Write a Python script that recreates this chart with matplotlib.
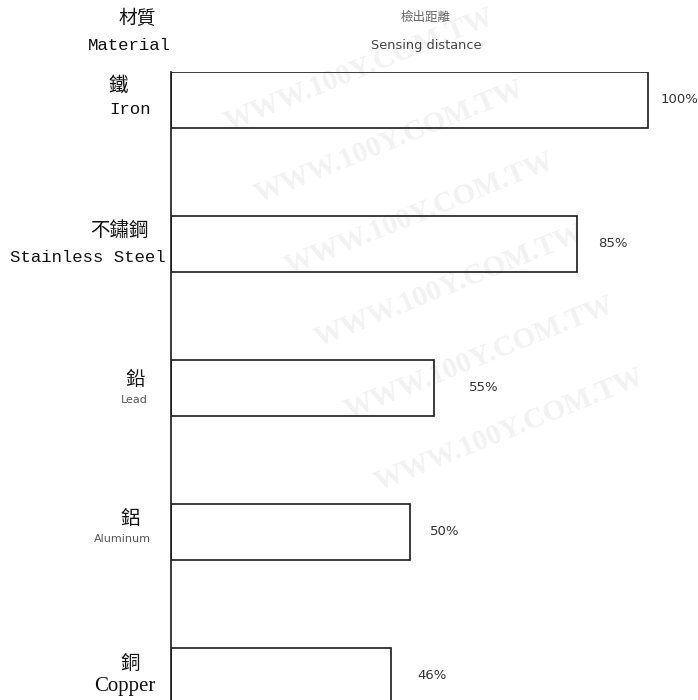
import matplotlib
matplotlib.use("Agg")
import matplotlib.pyplot as plt

# data
materials_zh = ["鐵", "不鏽鋼", "鉛", "鋁", "銅"]
materials_en = ["Iron", "Stainless Steel", "Lead", "Aluminum", "Copper"]
distance_pct = [100, 85, 55, 50, 46]

W, H = 698, 700
fig = plt.figure(figsize=(W / 100, H / 100), dpi=100)
fig.patch.set_facecolor("white")

# faint scan watermark (kept inside the page)
for row in range(10):
    x = 360 + row * 30
    y = 70 + row * 72
    if 150 < x < 540 and 60 < y < 650:
        fig.text(x / W, 1 - y / H, "WWW.100Y.COM.TW", rotation=22,
                 ha="center", va="center", fontsize=21, color="#f2f2f2",
                 family="Liberation Serif", weight="bold", zorder=-5)

ax = fig.add_axes([171 / W, 0, 525 / W, 628 / H])
ax.patch.set_alpha(0)
y = list(range(len(distance_pct)))
ax.barh(y, distance_pct, height=0.39, left=0, color="none",
        edgecolor="#1a1a1a", linewidth=1.2, zorder=2)
ax.set_xlim(0, 110)
ax.set_ylim(4.167, -0.194)
for s in ["top", "right", "bottom"]:
    ax.spines[s].set_visible(False)
ax.spines["left"].set_linewidth(1.2)
ax.spines["left"].set_color("#1a1a1a")
ax.set_xticks([])
ax.set_yticks([])

# percent labels
pct_offset = [12, 21, 35, 20, 27]
for i, v in enumerate(distance_pct):
    ax.annotate(f"{v}%", xy=(v, i), xytext=(pct_offset[i] * 0.72, 0),
                textcoords="offset points", ha="left", va="center",
                fontsize=9.5, color="#333333", family="DejaVu Sans",
                annotation_clip=False)

# category labels (centre x in pixels, vertical offsets in pixels)
zh_x = [118, 119, 135, 130, 130]
zh_dy = [-15, -14, -8, -14, -13]
en_x = [130, 88, 134, 122, 125]
en_dy = [10, 13, 12, 7, 11]
en_font = [("Liberation Mono", 12.5, "#111111"), ("Liberation Mono", 12.5, "#111111"),
           ("DejaVu Sans", 8, "#555555"), ("DejaVu Sans", 8, "#555555"),
           ("Liberation Serif", 15, "#111111")]
for i in range(len(materials_en)):
    cy = 100 + i * 144
    fig.text(zh_x[i] / W, 1 - (cy + zh_dy[i]) / H, materials_zh[i],
             ha="center", va="center", fontsize=14,
             family=["Noto Sans CJK TC", "DejaVu Sans"], color="#111111")
    fam, size, col = en_font[i]
    fig.text(en_x[i] / W, 1 - (cy + en_dy[i]) / H, materials_en[i],
             ha="center", va="center", fontsize=size, family=fam, color=col)

# headers
fig.text(137 / W, 1 - 18 / H, "材質", ha="center", va="center", fontsize=13.5,
         family=["Noto Sans CJK TC", "DejaVu Sans"], color="#111111")
fig.text(129 / W, 1 - 46 / H, "Material", ha="center", va="center",
         fontsize=12.5, family="Liberation Mono", color="#111111")
fig.text(426 / W, 1 - 17 / H, "檢出距離", ha="center", va="center", fontsize=9,
         family=["Noto Sans CJK TC", "DejaVu Sans"], color="#666666")
fig.text(426 / W, 1 - 45 / H, "Sensing distance", ha="center", va="center",
         fontsize=9.3, family="DejaVu Sans", color="#444444")

fig.savefig("out.png", dpi=100, facecolor="white")
